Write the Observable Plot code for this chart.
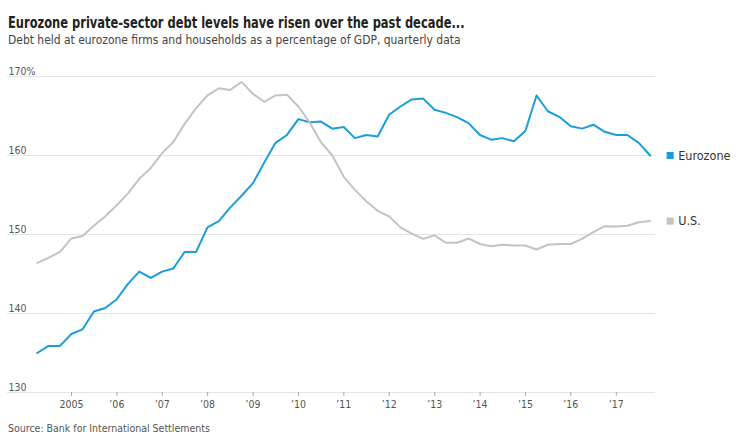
<!DOCTYPE html>
<html>
<head>
<meta charset="utf-8">
<script src="https://cdn.jsdelivr.net/npm/d3@7"></script>
<script src="https://cdn.jsdelivr.net/npm/@observablehq/plot@0.6"></script>
<style>
  html, body { margin: 0; padding: 0; background: #fff; }
  body { font-family: "Liberation Sans Narrow", "DejaVu Sans Condensed", "Roboto", sans-serif; width: 740px; }
  #title { margin: 0; padding: 14px 0 0 8px; font-size: 15px; line-height: 18px; font-weight: bold; color: #222; white-space: nowrap; transform: scaleX(0.85); transform-origin: 8px 0; }
  #subtitle { margin: 0; padding: 0 0 0 8px; font-size: 12.5px; line-height: 16px; color: #444; white-space: nowrap; transform: scaleX(0.955); transform-origin: 8px 0; }
  #chart { margin-top: 7px; height: 362px; }
  #chart svg { display: block; }
  #source { margin: 4px 0 0 8px; font-size: 10.5px; line-height: 14px; color: #555; }
</style>
</head>
<body>
<div id="title">Eurozone private-sector debt levels have risen over the past decade...</div>
<div id="subtitle">Debt held at eurozone firms and households as a percentage of GDP, quarterly data</div>
<div id="chart"></div>
<div id="source">Source: Bank for International Settlements</div>
<script>
// Quarter-end dates, 2004 Q1 .. 2017 Q3
const quarters = [
  "2004-03-31","2004-06-30","2004-09-30","2004-12-31",
  "2005-03-31","2005-06-30","2005-09-30","2005-12-31",
  "2006-03-31","2006-06-30","2006-09-30","2006-12-31",
  "2007-03-31","2007-06-30","2007-09-30","2007-12-31",
  "2008-03-31","2008-06-30","2008-09-30","2008-12-31",
  "2009-03-31","2009-06-30","2009-09-30","2009-12-31",
  "2010-03-31","2010-06-30","2010-09-30","2010-12-31",
  "2011-03-31","2011-06-30","2011-09-30","2011-12-31",
  "2012-03-31","2012-06-30","2012-09-30","2012-12-31",
  "2013-03-31","2013-06-30","2013-09-30","2013-12-31",
  "2014-03-31","2014-06-30","2014-09-30","2014-12-31",
  "2015-03-31","2015-06-30","2015-09-30","2015-12-31",
  "2016-03-31","2016-06-30","2016-09-30","2016-12-31",
  "2017-03-31","2017-06-30","2017-09-30"
];

const eurozone = [
  135.0, 135.9, 135.9, 137.4, 138.0, 140.25, 140.7, 141.8, 143.75, 145.3, 144.5,
  145.3, 145.7, 147.8, 147.8, 150.9, 151.7, 153.4, 154.9, 156.5, 159.1, 161.6,
  162.6, 164.6, 164.2, 164.3, 163.4, 163.6, 162.2, 162.6, 162.4, 165.15, 166.2,
  167.1, 167.2, 165.8, 165.4, 164.85, 164.1, 162.6, 162.0, 162.2, 161.8, 163.1,
  167.6, 165.6, 164.9, 163.7, 163.4, 163.9, 163.0, 162.6, 162.6, 161.6, 160.0
];

const us = [
  146.4, 147.05, 147.8, 149.5, 149.8, 151.1, 152.3, 153.7, 155.2, 157.05, 158.4,
  160.3, 161.7, 164.0, 166.0, 167.6, 168.5, 168.3, 169.3, 167.8, 166.8, 167.6,
  167.7, 166.2, 164.2, 161.7, 160.0, 157.3, 155.65, 154.2, 153.0, 152.3, 150.9,
  150.1, 149.45, 149.9, 148.95, 148.95, 149.5, 148.8, 148.5, 148.7, 148.6, 148.6,
  148.1, 148.7, 148.8, 148.8, 149.45, 150.3, 151.05, 151.0, 151.1, 151.55, 151.7
];

const seriesNames = ["Eurozone", "U.S."];
const seriesColors = ["#1a9ddc", "#c3c3c3"];

const yTicks = [130, 140, 150, 160, 170];
const xTickYears = [2005, 2006, 2007, 2008, 2009, 2010, 2011, 2012, 2013, 2014, 2015, 2016, 2017];
const xTickLabels = ["2005", "\u201906", "\u201907", "\u201908", "\u201909", "\u201910", "\u201911", "\u201912", "\u201913", "\u201914", "\u201915", "\u201916", "\u201917"];

const parse = d3.utcParse("%Y-%m-%d");
const dates = quarters.map(parse);
const rows = [];
[eurozone, us].forEach((vals, s) => {
  vals.forEach((v, i) => rows.push({date: dates[i], value: v, series: seriesNames[s]}));
});
const lastRows = seriesNames.map((name) => rows.filter(r => r.series === name).at(-1));
const xTicks = xTickYears.map(y => new Date(Date.UTC(y, 0, 1)));
const labelOf = new Map(xTicks.map((d, i) => [+d, xTickLabels[i]]));

const font = '"Liberation Sans Narrow", "DejaVu Sans Condensed", "Roboto", sans-serif';

const chart = Plot.plot({
  width: 740,
  height: 362,
  marginTop: 21,
  marginBottom: 25,
  marginLeft: 7,
  marginRight: 85,
  style: {fontFamily: font, fontSize: "11px", color: "#555", background: "#fff", overflow: "visible"},
  x: {type: "utc", domain: [parse("2003-08-05"), parse("2017-11-12")]},
  y: {domain: [130, 170], axis: null},
  color: {domain: seriesNames, range: seriesColors},
  marks: [
    Plot.ruleY(yTicks, {stroke: "#e4e4e4", strokeWidth: 1}),
    Plot.text(yTicks, {
      y: d => d,
      text: d => d === 170 ? d + "%" : String(d),
      frameAnchor: "left",
      textAnchor: "start",
      lineAnchor: "bottom",
      dx: 1,
      dy: -2,
      fill: "#555",
      fontSize: 10.5
    }),
    Plot.axisX({
      ticks: xTicks,
      tickFormat: d => labelOf.get(+d),
      tickSize: 4,
      tickPadding: 4,
      stroke: "#aaa",
      fill: "#555",
      fontSize: 10.5,
      label: null
    }),
    Plot.line(rows, {x: "date", y: "value", z: "series", stroke: "series", strokeWidth: 2}),
    Plot.dot(lastRows, {x: "date", y: "value", fill: "series", symbol: "square", r: 4, dx: 20}),
    Plot.text(lastRows, {x: "date", y: "value", text: "series", dx: 28, textAnchor: "start", fill: "#333", fontSize: 12.5})
  ]
});
document.getElementById("chart").appendChild(chart);
</script>
</body>
</html>
